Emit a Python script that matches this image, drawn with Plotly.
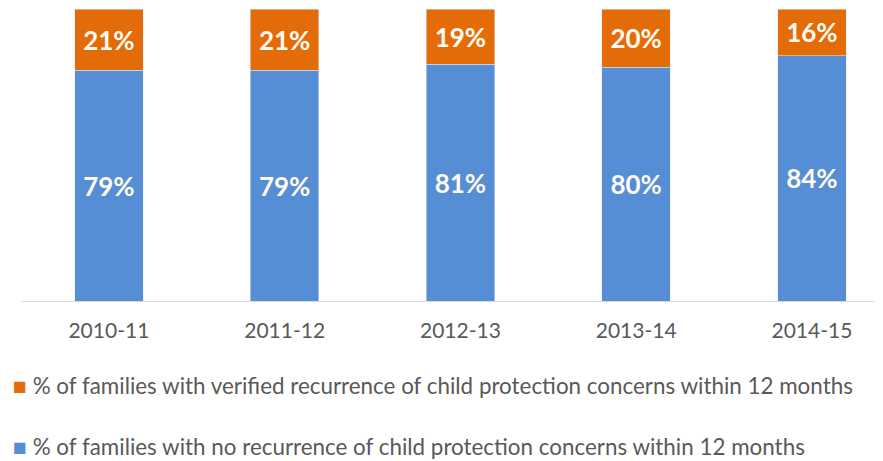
import plotly.graph_objects as go

categories = ["2010-11", "2011-12", "2012-13", "2013-14", "2014-15"]
no_recurrence = [79, 79, 81, 80, 84]
verified_recurrence = [21, 21, 19, 20, 16]
name_no = "% of families with no recurrence of child protection concerns within 12 months"
name_ver = "% of families with verified recurrence of child protection concerns within 12 months"

BLUE = "#558ED5"
ORANGE = "#E36C09"
FONT = "Lato"

fig = go.Figure()
fig.add_trace(go.Bar(
    x=categories, y=no_recurrence, name=name_no, marker_color=BLUE,
    text=[f"{v}%" for v in no_recurrence], textposition="inside",
    insidetextanchor="middle", textangle=0,
    textfont=dict(family=FONT, size=26, color="#FFFBF2", weight="bold"),
    showlegend=False,
))
fig.add_trace(go.Bar(
    x=categories, y=verified_recurrence, name=name_ver, marker_color=ORANGE,
    text=[f"{v}%" for v in verified_recurrence], textposition="inside",
    insidetextanchor="middle", textangle=0,
    textfont=dict(family=FONT, size=26, color="#FFFBF2", weight="bold"),
    showlegend=False,
))

# legend entries (orange first, then blue), written as text with a coloured square
legend_rows = [(name_ver, ORANGE, -0.288), (name_no, BLUE, -0.497)]
for name, color, ypos in legend_rows:
    fig.add_annotation(
        xref="paper", yref="paper", x=-0.0115, y=ypos,
        xanchor="left", yanchor="middle", showarrow=False, align="left",
        text=f'<span style="color:{color};font-size:23px">■</span>&nbsp;{name}',
        font=dict(family=FONT, size=22.4, color="#595959"),
    )

fig.update_layout(
    width=883, height=461,
    showlegend=False,
    barmode="stack", bargap=0.61,
    plot_bgcolor="white", paper_bgcolor="white",
    margin=dict(l=13, r=0, t=1, b=168, autoexpand=False),
    font=dict(family=FONT, color="#595959"),
    xaxis=dict(
        type="category", range=[-0.5, 4.45],
        showline=True, linecolor="#D9D9D9", linewidth=1,
        ticks="outside", ticklen=11, tickcolor="rgba(0,0,0,0)",
        tickfont=dict(family=FONT, size=21, color="#595959"),
        showgrid=False,
    ),
    yaxis=dict(range=[0, 100], visible=False, showgrid=False),
)

fig.write_html("out.html")
